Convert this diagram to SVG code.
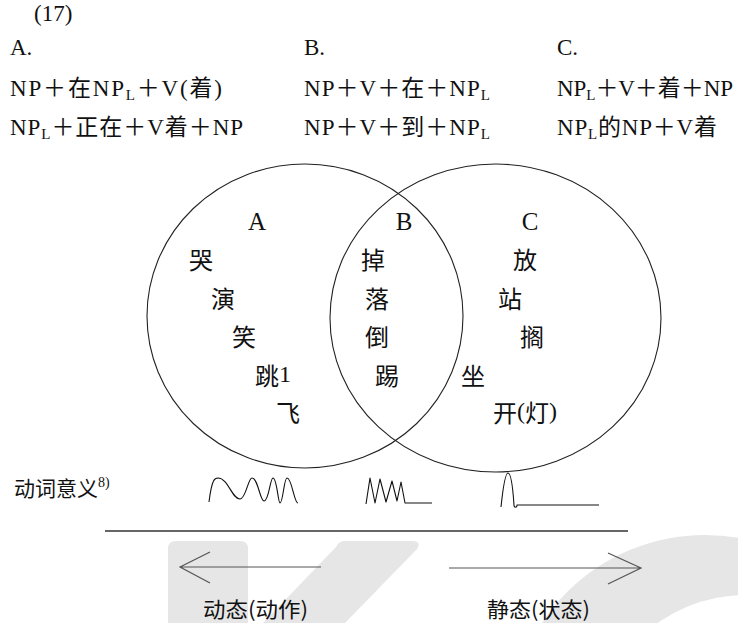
<svg xmlns="http://www.w3.org/2000/svg" width="738" height="623" viewBox="0 0 738 623">
<style>
.hd{font-family:"Liberation Serif","Noto Sans CJK SC",serif;font-size:23px;fill:#111}
.sub{font-size:15px}
.vc{font-family:"Noto Sans CJK SC","Liberation Serif",sans-serif;font-size:24px;fill:#111;dominant-baseline:central;text-anchor:middle}
.vs{font-family:"Noto Sans CJK SC","Liberation Serif",sans-serif;font-size:24px;fill:#111;dominant-baseline:central}
.lab{font-family:"Liberation Serif",serif;font-size:25px;fill:#111;text-anchor:middle}
.ln{fill:none;stroke:#222;stroke-width:1.1}
.ar{fill:none;stroke:#555;stroke-width:1.2}
.wv{fill:none;stroke:#111;stroke-width:1.1;stroke-linejoin:round}
.wm{fill:#e6e6e6}
.bt{font-family:"Noto Sans CJK SC",sans-serif;font-size:21px;fill:#111;dominant-baseline:central}
</style>
<g id="watermark">
<path class="wm" d="M176,541 H240 Q248,541 248,549 V623 H168 V549 Q168,541 176,541 Z"/>
<path class="wm" d="M344,541 H412 Q422,541 417,549 L345,623 H263 L336,547 Q339,541 344,541 Z"/>
<path class="wm" fill-rule="evenodd" d="M510,730 A195,195 0 1 1 900,730 A195,195 0 1 1 510,730 Z M595,745 A150,150 0 1 0 895,745 A150,150 0 1 0 595,745 Z"/>
</g>
<g id="header">
<text class="hd" x="34" y="21">(17)</text>
<text class="hd" x="10" y="55">A.</text>
<text class="hd" x="304" y="55">B.</text>
<text class="hd" x="557" y="55">C.</text>
<text class="hd" x="10" y="96" textLength="212" lengthAdjust="spacing">NP＋在NP<tspan class="sub" dy="4">L</tspan><tspan dy="-4">＋V(着)</tspan></text>
<text class="hd" x="10" y="135" textLength="233" lengthAdjust="spacing">NP<tspan class="sub" dy="4">L</tspan><tspan dy="-4">＋正在＋V着＋NP</tspan></text>
<text class="hd" x="304" y="96" textLength="186" lengthAdjust="spacing">NP＋V＋在＋NP<tspan class="sub" dy="4">L</tspan></text>
<text class="hd" x="304" y="135" textLength="186" lengthAdjust="spacing">NP＋V＋到＋NP<tspan class="sub" dy="4">L</tspan></text>
<text class="hd" x="557" y="96" textLength="176" lengthAdjust="spacing">NP<tspan class="sub" dy="4">L</tspan><tspan dy="-4">＋V＋着＋NP</tspan></text>
<text class="hd" x="557" y="135" textLength="160" lengthAdjust="spacing">NP<tspan class="sub" dy="4">L</tspan><tspan dy="-4">的NP＋V着</tspan></text>
</g>
<g id="venn">
<ellipse id="setA" class="ln" cx="305" cy="316" rx="158" ry="152"/>
<ellipse id="setC" class="ln" cx="495.5" cy="318" rx="165.5" ry="154"/>
</g>
<g id="groupA">
<text class="lab" x="257" y="230">A</text>
<text class="vc" x="201" y="258">哭</text>
<text class="vc" x="223" y="297">演</text>
<text class="vc" x="244" y="335">笑</text>
<text class="vs" x="255" y="374">跳<tspan font-family="Liberation Serif">1</tspan></text>
<text class="vc" x="288" y="411">飞</text>
</g>
<g id="groupB">
<text class="lab" x="404" y="230">B</text>
<text class="vc" x="373" y="258">掉</text>
<text class="vc" x="377" y="297">落</text>
<text class="vc" x="377" y="335">倒</text>
<text class="vc" x="387" y="374">踢</text>
</g>
<g id="groupC">
<text class="lab" x="530" y="230">C</text>
<text class="vc" x="525" y="258">放</text>
<text class="vc" x="510" y="297">站</text>
<text class="vc" x="532" y="335">搁</text>
<text class="vc" x="473" y="374">坐</text>
<text class="vs" x="493" y="411">开<tspan font-family="Liberation Serif">(</tspan>灯<tspan font-family="Liberation Serif">)</tspan></text>
</g>
<g id="meaning">
<text class="bt" x="14" y="487">动词意义<tspan font-family="Liberation Serif" font-size="14" dy="-5">8)</tspan></text>
<path class="wv" d="M209,502 C212,478 215,478 218,478 C228,478 232,499 240,499 C246,499 248,478 252,478 C258,478 260,501 264,501 C269,501 270,478 273,478 C277,478 278,503 280,503 C283,503 284,478 287,478 C292,478 294,503 298,503"/>
<path class="wv" d="M366,504 L370,478 L375,503 L380,479 L386,502 L392,481 L397,501 L401,482 L405,503 L432,503"/>
<path class="wv" d="M501,507 C503,488 505,473 508,473 C511,473 513,490 514,505 C514,508 517,508 517,505 L599,505"/>
</g>
<g id="connectors">
<line x1="105" y1="531" x2="628" y2="531" stroke="#333" stroke-width="1.4"/>
<path class="ar" d="M321,567 H180 M210,552 L180,567 L210,583"/>
<path class="ar" d="M449,568 H641 M608,553 L641,568 L608,584"/>
</g>
<g id="scale">
<text class="bt" x="203" y="608" textLength="105" lengthAdjust="spacingAndGlyphs">动态(动作)</text>
<text class="bt" x="487" y="608" textLength="103" lengthAdjust="spacingAndGlyphs">静态(状态)</text>
</g>
</svg>
